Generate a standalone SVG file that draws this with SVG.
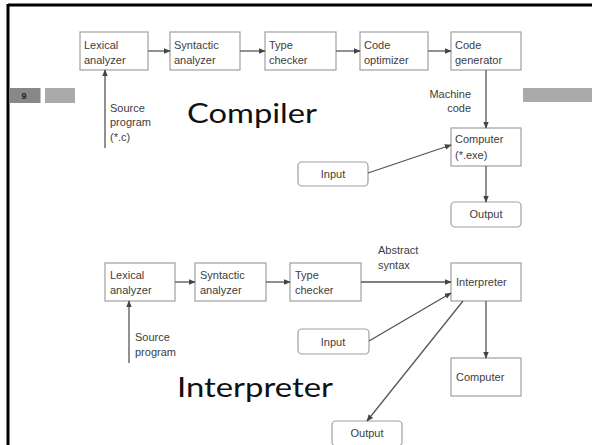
<svg xmlns="http://www.w3.org/2000/svg" width="592" height="445" viewBox="0 0 592 445">
  <style>
    .box { fill: #fff; stroke: #a0a0a0; stroke-width: 1.2; }
    .lbl { font-family: "Liberation Sans", Arial, sans-serif; font-size: 11px; fill: #404040; }
    .mid { text-anchor: middle; }
    .big { font-family: Lato, "Open Sans", sans-serif; font-size: 26px; fill: #111; }
    .edge { stroke: #555; stroke-width: 1.3; fill: none; marker-end: url(#arr); }
  </style>
  <defs>
    <marker id="arr" viewBox="0 0 10 10" refX="9" refY="5" markerWidth="7" markerHeight="7" orient="auto" markerUnits="userSpaceOnUse">
      <path d="M0,1 L10,5 L0,9 Z" fill="#444"/>
    </marker>
  </defs>
  <rect width="592" height="445" fill="#fff"/>

  <!-- slide frame and header bars -->
  <g id="frame">
    <line x1="8" y1="5" x2="592" y2="5" stroke="#000" stroke-width="3"/>
    <line x1="8" y1="4" x2="8" y2="445" stroke="#000" stroke-width="3"/>
    <rect x="9.5" y="88" width="31" height="15" fill="#888"/>
    <text x="24" y="99" class="mid" font-family="'Liberation Sans', sans-serif" font-size="9" font-weight="bold" fill="#222">9</text>
    <rect x="45" y="88" width="30" height="15" fill="#aaa"/>
    <rect x="523" y="88" width="69" height="14" fill="#aaa"/>
  </g>

  <!-- titles -->
  <text id="title-compiler" x="187" y="123" class="big" textLength="130" lengthAdjust="spacingAndGlyphs">Compiler</text>
  <text id="title-interpreter" x="177" y="397" class="big" textLength="156" lengthAdjust="spacingAndGlyphs">Interpreter</text>

  <!-- compiler pipeline -->
  <g id="c-lex"><rect class="box" x="80" y="32" width="68" height="38"/><text class="lbl" x="84" y="49">Lexical</text><text class="lbl" x="84" y="64">analyzer</text></g>
  <g id="c-syn"><rect class="box" x="170" y="32" width="70" height="38"/><text class="lbl" x="174" y="49">Syntactic</text><text class="lbl" x="174" y="64">analyzer</text></g>
  <g id="c-type"><rect class="box" x="265" y="32" width="71" height="38"/><text class="lbl" x="269" y="49">Type</text><text class="lbl" x="269" y="64">checker</text></g>
  <g id="c-opt"><rect class="box" x="360" y="32" width="68" height="38"/><text class="lbl" x="364" y="49">Code</text><text class="lbl" x="364" y="64">optimizer</text></g>
  <g id="c-gen"><rect class="box" x="451" y="32" width="70" height="38"/><text class="lbl" x="455" y="49">Code</text><text class="lbl" x="455" y="64">generator</text></g>
  <g id="c-comp"><rect class="box" x="451" y="128" width="70" height="38"/><text class="lbl" x="455" y="143">Computer</text><text class="lbl" x="455" y="159">(*.exe)</text></g>
  <g id="c-in"><rect class="box" x="298" y="162" width="70" height="24" rx="4"/><text class="lbl mid" x="333" y="178">Input</text></g>
  <g id="c-out"><rect class="box" x="451" y="202" width="70" height="25" rx="4"/><text class="lbl mid" x="486" y="218">Output</text></g>
  <g id="c-labels">
    <text class="lbl" x="110" y="112">Source</text>
    <text class="lbl" x="110" y="126">program</text>
    <text class="lbl" x="110" y="141">(*.c)</text>
    <text class="lbl" x="471" y="98" text-anchor="end">Machine</text>
    <text class="lbl" x="471" y="112" text-anchor="end">code</text>
  </g>

  <!-- interpreter pipeline -->
  <g id="i-lex"><rect class="box" x="105" y="263" width="70" height="38"/><text class="lbl" x="110" y="279">Lexical</text><text class="lbl" x="110" y="294">analyzer</text></g>
  <g id="i-syn"><rect class="box" x="195" y="263" width="71" height="38"/><text class="lbl" x="200" y="279">Syntactic</text><text class="lbl" x="200" y="294">analyzer</text></g>
  <g id="i-type"><rect class="box" x="290" y="263" width="71" height="38"/><text class="lbl" x="295" y="279">Type</text><text class="lbl" x="295" y="294">checker</text></g>
  <g id="i-interp"><rect class="box" x="451" y="263" width="70" height="38"/><text class="lbl" x="456" y="286">Interpreter</text></g>
  <g id="i-comp"><rect class="box" x="451" y="358" width="70" height="38"/><text class="lbl" x="456" y="381">Computer</text></g>
  <g id="i-in"><rect class="box" x="298" y="329" width="71" height="25" rx="4"/><text class="lbl mid" x="333" y="346">Input</text></g>
  <g id="i-out"><rect class="box" x="332" y="421" width="70" height="25" rx="4"/><text class="lbl mid" x="367" y="437">Output</text></g>
  <g id="i-labels">
    <text class="lbl" x="378" y="254">Abstract</text>
    <text class="lbl" x="378" y="269">syntax</text>
    <text class="lbl" x="135" y="341">Source</text>
    <text class="lbl" x="135" y="356">program</text>
  </g>

  <!-- connectors -->
  <g id="connectors">
    <line class="edge" x1="148" y1="51" x2="170" y2="51"/>
    <line class="edge" x1="240" y1="51" x2="265" y2="51"/>
    <line class="edge" x1="336" y1="51" x2="360" y2="51"/>
    <line class="edge" x1="428" y1="51" x2="451" y2="51"/>
    <line class="edge" x1="486" y1="70" x2="486" y2="128"/>
    <line class="edge" x1="368" y1="173" x2="451" y2="145"/>
    <line class="edge" x1="486" y1="166" x2="486" y2="202"/>
    <line class="edge" x1="105" y1="148" x2="105" y2="70"/>

    <line class="edge" x1="175" y1="282" x2="195" y2="282"/>
    <line class="edge" x1="266" y1="282" x2="290" y2="282"/>
    <line class="edge" x1="361" y1="282" x2="451" y2="282"/>
    <line class="edge" x1="129" y1="363" x2="129" y2="301"/>
    <line class="edge" x1="369" y1="341" x2="451" y2="293"/>
    <line class="edge" x1="486" y1="301" x2="486" y2="358"/>
    <line class="edge" x1="463" y1="301" x2="367" y2="421"/>
  </g>
</svg>
